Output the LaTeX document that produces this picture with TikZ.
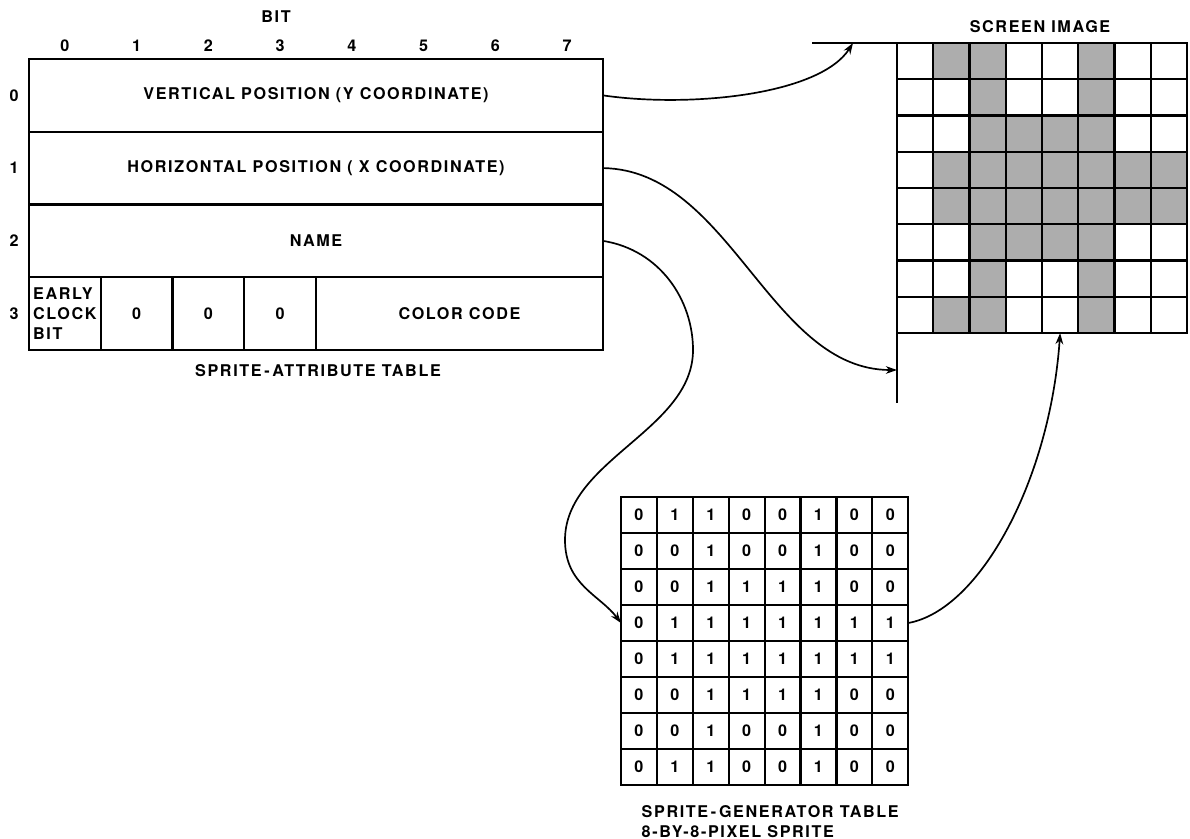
\documentclass[tikz,border=0pt]{standalone}
\usepackage{fontspec}
\setmainfont{TeX Gyre Heros}[LetterSpace=10]
\usetikzlibrary{positioning,arrows.meta}

\begin{document}
\begin{tikzpicture}[x=0.025cm,y=-0.025cm,>={Stealth[length=8pt,width=5.5pt]},
  font=\fontsize{11.5}{14.2}\selectfont\bfseries,line width=1.5pt,
  rowbox/.style={draw,minimum width=14.35cm,minimum height=1.819cm,inner sep=0pt,outer sep=0pt},
  bitbox/.style={draw,minimum width=1.794cm,minimum height=1.819cm,inner sep=0pt,outer sep=0pt},
  genbox/.style={draw,minimum size=0.9cm,inner sep=0pt,outer sep=0pt},
  scrbox/.style={draw,minimum size=0.906cm,inner sep=0pt,outer sep=0pt},
  px0/.style={fill=white},
  px1/.style={fill=black!32},
  link/.style={->,line width=1.2pt}]
  \useasboundingbox (0,0) rectangle (1190,839);
  % --- sprite-attribute table ---
  \node (bit) at (276,17) {BIT};
  \foreach \c in {0,...,7} \node (col\c) at ({64.9+71.75*\c},46) {\c};
  \node[rowbox] (r0) at (316,95.4) {VERTICAL POSITION (Y COORDINATE)};
  \node[rowbox] (r1) at (316,168.1) {HORIZONTAL POSITION ( X COORDINATE)};
  \node[rowbox] (r2) at (316,240.9) {NAME};
  \node[bitbox,align=left] (early) at (64.9,313.6) {EARLY\\CLOCK\\BIT};
  \foreach \c in {1,2,3} \node[bitbox] (z\c) at ({64.9+71.75*\c},313.6) {0};
  \node[rowbox,minimum width=7.175cm] (color) at (459.5,313.6) {COLOR CODE};
  \foreach \r in {0,...,3} \node (row\r) at (14,{95.4+72.75*\r}) {\r};
  \node (attrcap) at (318,371) {SPRITE\,-\,ATTRIBUTE TABLE};
  % --- generator table and screen image ---
  \node (scrcap) at (1040,27) {SCREEN IMAGE};
  \foreach \bits [count=\r from 0] in {{0,1,1,0,0,1,0,0},{0,0,1,0,0,1,0,0},{0,0,1,1,1,1,0,0},{0,1,1,1,1,1,1,1},
      {0,1,1,1,1,1,1,1},{0,0,1,1,1,1,0,0},{0,0,1,0,0,1,0,0},{0,1,1,0,0,1,0,0}}
    \foreach \b [count=\c from 0] in \bits {
      \node[genbox] (g-\r-\c) at ({621+35.9*(\c+0.5)},{497+36*(\r+0.5)}) {\b};
      \node[scrbox,px\b] (s-\r-\c) at ({897+36.25*(\c+0.5)},{43+36.25*(\r+0.5)}) {};
    }
  \node[align=left,anchor=north west] (gencap) at (636,800) {SPRITE\,-\,GENERATOR TABLE\\8-BY-8-PIXEL SPRITE};
  % --- screen axes ---
  \coordinate (axtop) at (812,43);
  \coordinate (axbot) at (897,403);
  \draw (axtop) -| (axbot);
  \coordinate (ytarget) at (853,43);
  \coordinate (xtarget) at (897,370);
  % --- links ---
  \draw[link] (r0.east) .. controls (690,108) and (820,95) .. (ytarget);
  \draw[link] (r1.east) .. controls (730,170) and (770,370) .. (xtarget);
  \draw[link] (r2.east) .. controls (660,250) and (693,300) .. (693,350)
    .. controls (693,430) and (565,460) .. (565,540)
    .. controls (565,585) and (600,595) .. (g-3-0.west);
  \draw[link] (g-3-7.east) .. controls (980,610) and (1050,480) .. (s-7-4.south);
\end{tikzpicture}
\end{document}
